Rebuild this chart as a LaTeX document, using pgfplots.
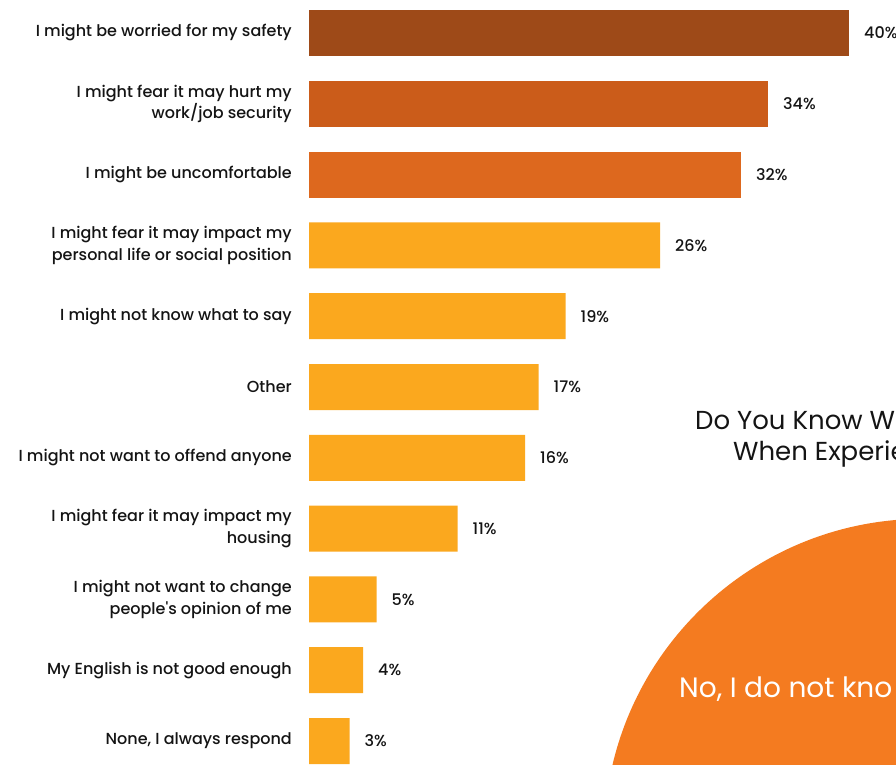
\documentclass[border=0pt]{standalone}
\usepackage{pgfplots}
\pgfplotsset{compat=1.18}
\usepackage{pgfplotstable}
\usepackage{fontspec}
\setmainfont{Poppins}
\newfontfamily\pmed{Poppins Medium}
\definecolor{cA}{RGB}{158,74,24}
\definecolor{cB}{RGB}{203,92,26}
\definecolor{cC}{RGB}{221,104,30}
\definecolor{cD}{RGB}{251,168,30}
\definecolor{pie}{RGB}{244,123,32}
\definecolor{txt}{RGB}{20,20,20}

\pgfplotstableread{
idx val
0 40
}\tA
\pgfplotstableread{
idx val
1 34
}\tB
\pgfplotstableread{
idx val
2 32
}\tC
\pgfplotstableread{
idx val
3 26
4 19
5 17
6 16
7 11
8 5
9 4
10 3
}\tD

\begin{document}
\begin{tikzpicture}
\path[use as bounding box, clip] (0pt,0pt) rectangle (896pt,764pt);
% fragment of the neighbouring chart
\fill[pie] (923.5pt,-74.3pt) circle (319.5pt);
\node[anchor=base west, inner sep=0pt, font=\fontsize{26}{28}\selectfont, text=txt] at (695pt,335pt) {Do You Know W};
\node[anchor=base west, inner sep=0pt, font=\fontsize{26}{28}\selectfont, text=txt] at (733pt,304pt) {When Experie};
\node[anchor=base west, inner sep=0pt, font=\fontsize{28}{30}\selectfont, text=white] at (679pt,67pt) {No, I do not kno};
\begin{axis}[
  at={(309pt,0pt)}, anchor=south west,
  scale only axis, width=587pt, height=764pt,
  xbar, bar width=46pt, bar shift=0pt,
  xmin=0, xmax=43.48,
  ymin=-0.466, ymax=10.325, y dir=reverse,
  axis line style={draw=none},
  xticklabels={},
  clip=false,
  ytick={0,...,10},
  yticklabels={
    I might be worried for my safety,
    {I might fear it may hurt my\\work/job security},
    I might be uncomfortable,
    {I might fear it may impact my\\personal life or social position},
    I might not know what to say,
    Other,
    I might not want to offend anyone,
    {I might fear it may impact my\\housing},
    {I might not want to change\\people's opinion of me},
    My English is not good enough,
    {None, I always respond}},
  yticklabel style={align=right, inner sep=0pt, xshift=-17pt,
    font=\pmed\fontsize{16}{21.5}\selectfont, text=txt},
  major tick length=0pt,
  nodes near coords={\pgfmathprintnumber[assume math mode=true]{\pgfplotspointmeta}\%},
  point meta=x,
  every node near coord/.append style={anchor=west, inner sep=0pt, xshift=15pt,
    font=\pmed\fontsize{16}{18}\selectfont, text=txt},
]
\addplot[fill=cA, draw=none] table[x=val, y=idx] {\tA};
\addplot[fill=cB, draw=none] table[x=val, y=idx] {\tB};
\addplot[fill=cC, draw=none] table[x=val, y=idx] {\tC};
\addplot[fill=cD, draw=none] table[x=val, y=idx] {\tD};
\end{axis}
\end{tikzpicture}
\end{document}
